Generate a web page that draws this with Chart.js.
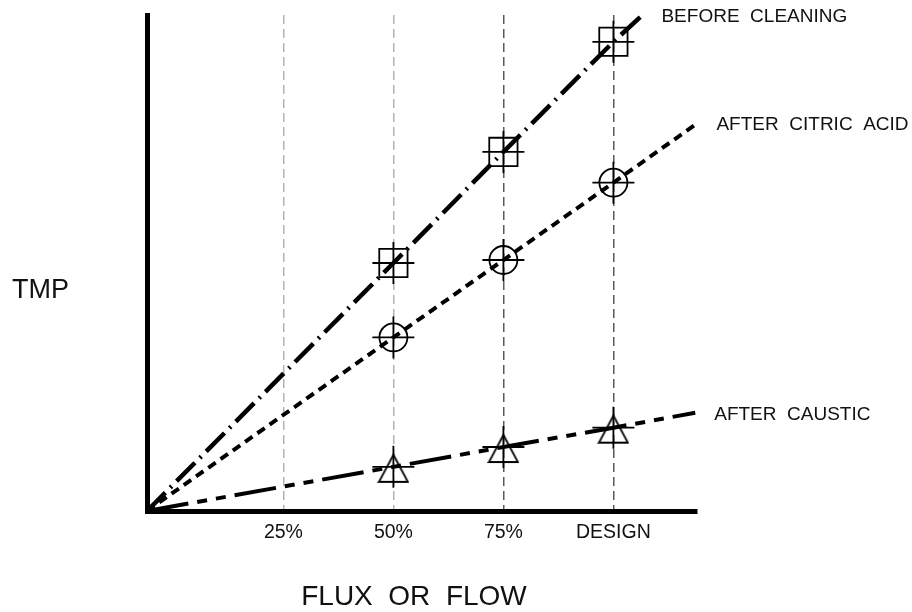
<!DOCTYPE html>
<html>
<head>
<meta charset="utf-8">
<title>TMP vs Flux</title>
<script src="https://cdn.jsdelivr.net/npm/chart.js@4/dist/chart.umd.min.js"></script>
<style>
  html, body { margin: 0; padding: 0; background: #fff; }
  #wrap { width: 912px; height: 612px; position: relative; }
</style>
</head>
<body>
<div id="wrap"><canvas id="tmpChart"></canvas></div>
<script>
// flux axis (percent of design flow) and its labelled positions
const fluxTicks = [25, 50, 75, 100];
const fluxLabels = ['25%', '50%', '75%', 'DESIGN'];
const fluxPoints = [50, 75, 100];

// measured TMP at each flux point
const beforeCleaning = [50, 72.4, 94.6];
const afterCitricAcid = [35, 50.6, 66.2];
const afterCaustic = [8.9, 12.9, 16.8];

// where each trend line starts (axis corner) and runs out to
const originFlux = -6;
const originTmp = 0;
const endFlux = [106.6, 119.1, 118.6];
const endTmp = [100, 78.2, 19.8];

const seriesNames = ['BEFORE  CLEANING', 'AFTER  CITRIC  ACID', 'AFTER  CAUSTIC'];
const seriesValues = [beforeCleaning, afterCitricAcid, afterCaustic];
const seriesDash = [[26, 7, 2, 7], [9, 6], [42, 9, 10, 9, 10, 9]];

const FONT = '"Liberation Sans", Arial, sans-serif';

// triangle marker sits a little below its crosshair, so draw it as a sprite
function triangleSprite() {
    const c = document.createElement('canvas');
    c.width = 32;
    c.height = 44;
    const g = c.getContext('2d');
    g.strokeStyle = '#000';
    g.lineWidth = 1.8;
    g.beginPath();
    g.moveTo(16, 10);
    g.lineTo(1.5, 37);
    g.lineTo(30.5, 37);
    g.closePath();
    g.stroke();
    return c;
}

const seriesMarker = ['rect', 'circle', triangleSprite()];
const markerRadius = [20, 14, 16];

function trendLine(i) {
    const pts = [{ x: originFlux, y: originTmp }];
    fluxPoints.forEach((f, j) => pts.push({ x: f, y: seriesValues[i][j] }));
    pts.push({ x: endFlux[i], y: endTmp[i] });
    return pts;
}

function markerPoints(i) {
    return fluxPoints.map((f, j) => ({ x: f, y: seriesValues[i][j] }));
}

const datasets = [];
seriesNames.forEach((name, i) => {
    datasets.push({
        label: name,
        data: trendLine(i),
        borderColor: '#000',
        borderWidth: i === 0 ? 4.5 : 4,
        borderDash: seriesDash[i],
        pointRadius: 0,
        tension: 0,
        clip: false
    });
});
seriesNames.forEach((name, i) => {
    datasets.push({
        label: name + ' marker',
        data: markerPoints(i),
        showLine: false,
        pointStyle: seriesMarker[i],
        pointRadius: markerRadius[i],
        pointBorderWidth: 1.8,
        pointBorderColor: '#000',
        pointBackgroundColor: 'rgba(0,0,0,0)',
        clip: false
    });
    datasets.push({
        label: name + ' cross',
        data: markerPoints(i),
        showLine: false,
        pointStyle: 'cross',
        pointRadius: 21,
        pointBorderWidth: 1.8,
        pointBorderColor: '#000',
        clip: false
    });
});

// axis titles and line labels
const annotations = {
    id: 'annotations',
    afterDraw(chart) {
        const ctx = chart.ctx;
        ctx.save();
        ctx.fillStyle = '#111';
        ctx.textBaseline = 'middle';

        ctx.font = '19px ' + FONT;
        ctx.textAlign = 'left';
        seriesNames.forEach((name, i) => {
            const pts = chart.getDatasetMeta(i).data;
            const last = pts[pts.length - 1];
            ctx.fillText(name, last.x + 19, last.y + 2);
        });

        ctx.font = '27px ' + FONT;
        ctx.fillText('TMP', 12, 291);

        ctx.font = '28px ' + FONT;
        ctx.textAlign = 'center';
        ctx.fillText('FLUX  OR  FLOW', 414, 597);
        ctx.restore();
    }
};

new Chart(document.getElementById('tmpChart'), {
    type: 'line',
    data: { datasets },
    options: {
        responsive: true,
        maintainAspectRatio: false,
        animation: false,
        events: [],
        layout: { autoPadding: false, padding: { top: 15, right: 215, bottom: 0, left: 0 } },
        plugins: {
            legend: { display: false },
            tooltip: { enabled: false }
        },
        scales: {
            x: {
                type: 'linear',
                min: originFlux,
                max: 119,
                afterBuildTicks: scale => { scale.ticks = fluxTicks.map(v => ({ value: v })); },
                afterFit: scale => {
                    scale.height = 101;
                    scale.paddingLeft = 0;
                    scale.paddingRight = 0;
                },
                ticks: {
                    padding: 10,
                    color: '#111',
                    font: { family: FONT, size: 19.5 },
                    maxRotation: 0,
                    callback: value => fluxLabels[fluxTicks.indexOf(value)]
                },
                grid: {
                    drawTicks: false,
                    lineWidth: 1.5,
                    color: c => (c.tick && c.tick.value > 50 ? '#5a5a5a' : '#b4b4b4')
                },
                border: { display: true, color: '#000', width: 5, dash: [9, 5] }
            },
            y: {
                type: 'linear',
                min: 0,
                max: 100,
                afterFit: scale => {
                    scale.width = 147;
                    scale.paddingTop = 0;
                    scale.paddingBottom = 0;
                },
                ticks: { display: false },
                grid: { display: false, drawTicks: false },
                border: { display: true, color: '#000', width: 5 }
            }
        }
    },
    plugins: [annotations]
});
</script>
</body>
</html>
